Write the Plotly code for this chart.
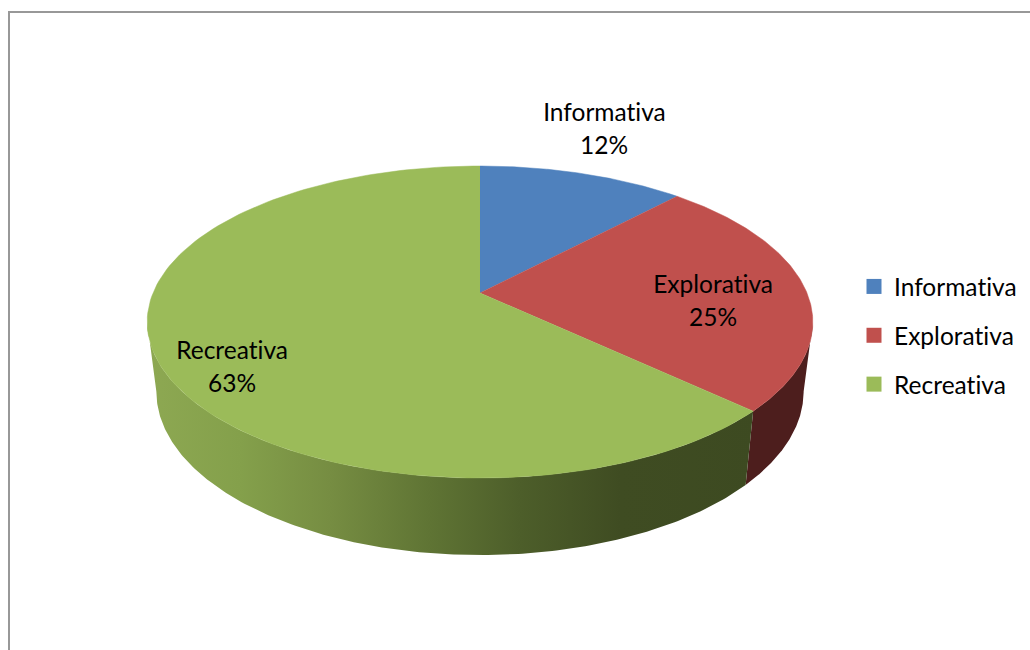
# 3D-looking pie chart, drawn as filled scatter polygons because go.Pie has no tilt
import numpy as np
import plotly.graph_objects as go

labels = ["Informativa", "Explorativa", "Recreativa"]
values = [12, 25, 63]
colors = ["#4f81bd", "#c0504d", "#9bbb59"]
# horizontal gradient of the side wall: (pixel x, colour)
side_stops = {
    1: [(140, "#4d1e1d"), (1000, "#4d1e1d")],
    2: [(150, "#8da852"), (240, "#84a04b"), (330, "#768d42"), (430, "#5f7434"),
        (520, "#4d5e2a"), (620, "#3f4c22"), (760, "#3d4a21")],
}
# label centre in pixels (x, first line y)
label_pos = [(604, 111), (713, 283), (232, 349)]

W, H = 1030, 650
FONT = "Lato"
FONT_SIZE = 24.5
LINE_GAP = 33

# perspective of the disc: k is the foreshortening from front to back
K = 0.186
TOP = dict(x0=480, y0=293, a=327, b=150.6)
BOTTOM = dict(x0=480, y0=361, a=318, b=158)


def project(theta, disc):
    u, v = np.sin(theta), np.cos(theta)
    w = 1 + K * v
    return disc["x0"] + disc["a"] * u / w, disc["y0"] - disc["b"] * v / w


fig = go.Figure()

edges = np.cumsum([0] + values) / sum(values) * 2 * np.pi
# the wall is visible between the two points where the rim is widest on screen
front_lo = np.arccos(-K)
front_hi = 2 * np.pi - front_lo

# --- side wall ---
for i in (1, 2):
    start, end = max(edges[i], front_lo), min(edges[i + 1], front_hi)
    arc = np.linspace(start, end, 200)
    xt, yt = project(arc, TOP)
    xb, yb = project(arc[::-1], BOTTOM)
    stops = side_stops[i]
    lo, hi = stops[0][0], stops[-1][0]
    fig.add_trace(go.Scatter(
        x=list(xt) + list(xb), y=list(yt) + list(yb), mode="lines", fill="toself",
        fillgradient=dict(type="horizontal", start=lo, stop=hi,
                          colorscale=[[(x - lo) / (hi - lo), c] for x, c in stops]),
        line=dict(width=0), showlegend=False, hoverinfo="skip",
    ))

# --- top of the pie ---
for i in range(len(values)):
    arc = np.linspace(edges[i], edges[i + 1], 150)
    ax, ay = project(arc, TOP)
    fig.add_trace(go.Scatter(
        x=[TOP["x0"]] + list(ax), y=[TOP["y0"]] + list(ay), mode="lines", fill="toself",
        fillcolor=colors[i], line=dict(color=colors[i], width=0.5), showlegend=False, hoverinfo="skip",
    ))

# --- legend entries ---
for i, name in enumerate(labels):
    fig.add_trace(go.Scatter(
        x=[None], y=[None], mode="markers", name=name, legendgroup=name,
        marker=dict(symbol="square", size=15, color=colors[i]),
    ))

# --- data labels ---
for i, name in enumerate(labels):
    lx, ly = label_pos[i]
    for text, yy in ((name, ly), (f"{values[i]}%", ly + LINE_GAP)):
        fig.add_annotation(x=lx, y=yy, text=text, showarrow=False, xanchor="center", yanchor="middle",
                           font=dict(family=FONT, size=FONT_SIZE, color="#000000"))

# grey frame, runs off the right and bottom of the picture
fig.add_shape(type="rect", x0=9, y0=12, x1=W + 20, y1=H + 20, line=dict(color="#989898", width=2), layer="below")

fig.update_layout(
    width=W, height=H, margin=dict(l=0, r=0, t=0, b=0),
    paper_bgcolor="#ffffff", plot_bgcolor="#ffffff",
    xaxis=dict(range=[0, W], visible=False, fixedrange=True),
    yaxis=dict(range=[H, 0], visible=False, fixedrange=True),
    legend=dict(x=854 / W, y=1 - 264 / H, xanchor="left", yanchor="top", traceorder="grouped",
                tracegroupgap=14, font=dict(family=FONT, size=FONT_SIZE, color="#000000"),
                bgcolor="rgba(0,0,0,0)", itemwidth=30),
    font=dict(family=FONT),
)

# no page margin, and no "ti" ligature which the original font does not have
POST = """
document.body.style.margin = '0';
document.body.style.overflow = 'hidden';
var st = document.createElement('style');
st.textContent = 'text { font-variant-ligatures: none !important; letter-spacing: 0.01px; }';
document.head.appendChild(st);
"""
fig.write_html("out.html", config=dict(displayModeBar=False), post_script=POST)
